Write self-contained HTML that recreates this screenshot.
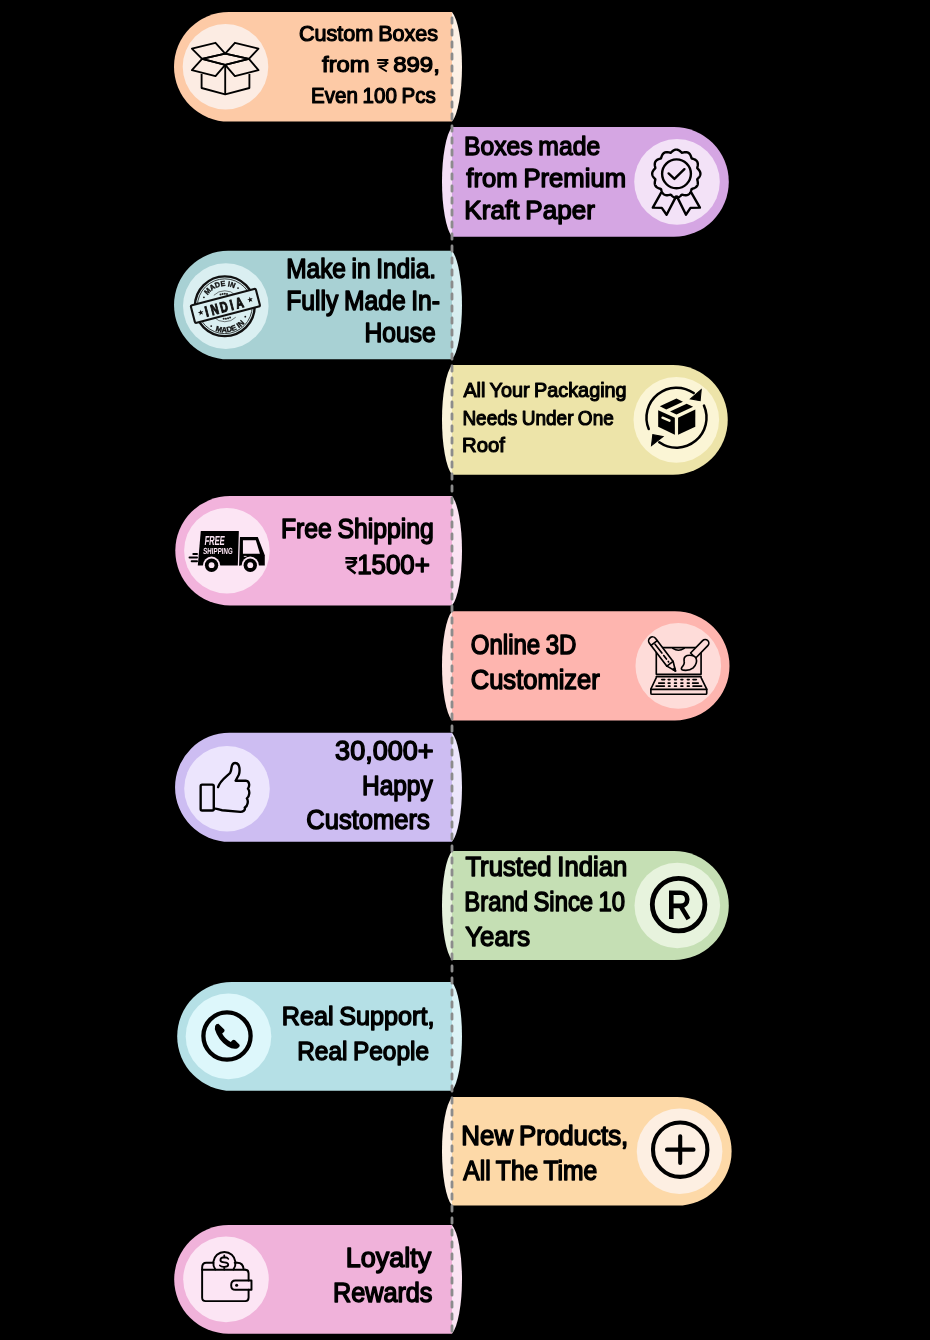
<!DOCTYPE html><html><head><meta charset="utf-8"><style>html,body{margin:0;padding:0;background:#000;width:930px;height:1340px;overflow:hidden}svg{display:block;will-change:transform}</style></head><body>
<svg width="930" height="1340" viewBox="0 0 930 1340">
<path d="M452,12.0 H228.80 A54.80,54.80 0 0 0 228.80,121.6 H452 Z" fill="#fdcaa6"/>
<path d="M452,12.0 A14.00,57.18 0 0 1 452,121.6 Z" fill="#fdf1e6"/>
<circle cx="225.5" cy="66.80" r="42.8" fill="#fcece3"/>
<g fill="none" stroke="#000" stroke-width="1.85" stroke-linejoin="round"><polygon points="191.9,48.699999999999996 215.5,42.8 225.2,53.599999999999994 202.1,58.9"/><polygon points="225.2,53.599999999999994 234.9,42.8 258.5,48.699999999999996 248.9,58.9"/><polygon points="202.1,58.9 225.2,53.599999999999994 248.9,58.9 225.2,64.8"/><polygon points="202.1,58.9 191.9,70.2 215.5,76.1 225.2,64.8"/><polygon points="248.9,58.9 258.5,70.2 234.9,76.1 225.2,64.8"/><polyline points="201.6,74.0 201.6,88.0 225.2,94.39999999999999 249.4,88.0 249.4,74.0"/><line x1="225.2" y1="64.8" x2="225.2" y2="94.39999999999999"/></g>
<path d="M452,127.0 H673.95 A54.85,54.85 0 0 1 673.95,236.7 H452 Z" fill="#d5a6e3"/>
<path d="M452,127.0 A14.00,57.24 0 0 0 452,236.7 Z" fill="#f4def6"/>
<circle cx="677" cy="181.85" r="42.8" fill="#f3e2f7"/>
<g fill="none" stroke="#000" stroke-width="2.4" stroke-linejoin="round" stroke-linecap="round"><polygon points="700.40,173.70 700.38,174.12 700.32,174.54 700.23,174.95 700.10,175.36 699.93,175.77 699.73,176.16 699.51,176.55 699.26,176.93 698.99,177.29 698.70,177.65 698.40,178.00 698.10,178.33 697.80,178.66 697.51,178.99 697.26,179.32 697.31,179.73 697.40,180.15 697.50,180.59 697.59,181.03 697.67,181.48 697.74,181.93 697.79,182.38 697.82,182.84 697.82,183.28 697.80,183.72 697.74,184.16 697.65,184.58 697.52,184.98 697.36,185.38 697.17,185.75 696.94,186.10 696.68,186.44 696.39,186.75 696.08,187.04 695.73,187.30 695.36,187.55 694.97,187.77 694.57,187.97 694.15,188.15 693.72,188.32 693.29,188.47 692.86,188.61 692.44,188.75 692.02,188.89 691.64,189.04 691.49,189.42 691.35,189.84 691.21,190.26 691.07,190.69 690.92,191.12 690.75,191.55 690.57,191.97 690.37,192.37 690.15,192.76 689.90,193.13 689.64,193.48 689.35,193.79 689.04,194.08 688.70,194.34 688.35,194.57 687.98,194.76 687.58,194.92 687.18,195.05 686.76,195.14 686.32,195.20 685.88,195.22 685.44,195.22 684.98,195.19 684.53,195.14 684.08,195.07 683.63,194.99 683.19,194.90 682.75,194.80 682.33,194.71 681.92,194.66 681.59,194.91 681.26,195.20 680.93,195.50 680.60,195.80 680.25,196.10 679.89,196.39 679.53,196.66 679.15,196.91 678.76,197.13 678.37,197.33 677.96,197.50 677.55,197.63 677.14,197.72 676.72,197.78 676.30,197.80 675.88,197.78 675.46,197.72 675.05,197.63 674.64,197.50 674.23,197.33 673.84,197.13 673.45,196.91 673.07,196.66 672.71,196.39 672.35,196.10 672.00,195.80 671.67,195.50 671.34,195.20 671.01,194.91 670.68,194.66 670.27,194.71 669.85,194.80 669.41,194.90 668.97,194.99 668.52,195.07 668.07,195.14 667.62,195.19 667.16,195.22 666.72,195.22 666.28,195.20 665.84,195.14 665.42,195.05 665.02,194.92 664.62,194.76 664.25,194.57 663.90,194.34 663.56,194.08 663.25,193.79 662.96,193.48 662.70,193.13 662.45,192.76 662.23,192.37 662.03,191.97 661.85,191.55 661.68,191.12 661.53,190.69 661.39,190.26 661.25,189.84 661.11,189.42 660.96,189.04 660.58,188.89 660.16,188.75 659.74,188.61 659.31,188.47 658.88,188.32 658.45,188.15 658.03,187.97 657.63,187.77 657.24,187.55 656.87,187.30 656.52,187.04 656.21,186.75 655.92,186.44 655.66,186.10 655.43,185.75 655.24,185.38 655.08,184.98 654.95,184.58 654.86,184.16 654.80,183.72 654.78,183.28 654.78,182.84 654.81,182.38 654.86,181.93 654.93,181.48 655.01,181.03 655.10,180.59 655.20,180.15 655.29,179.73 655.34,179.32 655.09,178.99 654.80,178.66 654.50,178.33 654.20,178.00 653.90,177.65 653.61,177.29 653.34,176.93 653.09,176.55 652.87,176.16 652.67,175.77 652.50,175.36 652.37,174.95 652.28,174.54 652.22,174.12 652.20,173.70 652.22,173.28 652.28,172.86 652.37,172.45 652.50,172.04 652.67,171.63 652.87,171.24 653.09,170.85 653.34,170.47 653.61,170.11 653.90,169.75 654.20,169.40 654.50,169.07 654.80,168.74 655.09,168.41 655.34,168.08 655.29,167.67 655.20,167.25 655.10,166.81 655.01,166.37 654.93,165.92 654.86,165.47 654.81,165.02 654.78,164.56 654.78,164.12 654.80,163.68 654.86,163.24 654.95,162.82 655.08,162.42 655.24,162.02 655.43,161.65 655.66,161.30 655.92,160.96 656.21,160.65 656.52,160.36 656.87,160.10 657.24,159.85 657.63,159.63 658.03,159.43 658.45,159.25 658.88,159.08 659.31,158.93 659.74,158.79 660.16,158.65 660.58,158.51 660.96,158.36 661.11,157.98 661.25,157.56 661.39,157.14 661.53,156.71 661.68,156.28 661.85,155.85 662.03,155.43 662.23,155.03 662.45,154.64 662.70,154.27 662.96,153.92 663.25,153.61 663.56,153.32 663.90,153.06 664.25,152.83 664.62,152.64 665.02,152.48 665.42,152.35 665.84,152.26 666.28,152.20 666.72,152.18 667.16,152.18 667.62,152.21 668.07,152.26 668.52,152.33 668.97,152.41 669.41,152.50 669.85,152.60 670.27,152.69 670.68,152.74 671.01,152.49 671.34,152.20 671.67,151.90 672.00,151.60 672.35,151.30 672.71,151.01 673.07,150.74 673.45,150.49 673.84,150.27 674.23,150.07 674.64,149.90 675.05,149.77 675.46,149.68 675.88,149.62 676.30,149.60 676.72,149.62 677.14,149.68 677.55,149.77 677.96,149.90 678.37,150.07 678.76,150.27 679.15,150.49 679.53,150.74 679.89,151.01 680.25,151.30 680.60,151.60 680.93,151.90 681.26,152.20 681.59,152.49 681.92,152.74 682.33,152.69 682.75,152.60 683.19,152.50 683.63,152.41 684.08,152.33 684.53,152.26 684.98,152.21 685.44,152.18 685.88,152.18 686.32,152.20 686.76,152.26 687.18,152.35 687.58,152.48 687.98,152.64 688.35,152.83 688.70,153.06 689.04,153.32 689.35,153.61 689.64,153.92 689.90,154.27 690.15,154.64 690.37,155.03 690.57,155.43 690.75,155.85 690.92,156.28 691.07,156.71 691.21,157.14 691.35,157.56 691.49,157.98 691.64,158.36 692.02,158.51 692.44,158.65 692.86,158.79 693.29,158.93 693.72,159.08 694.15,159.25 694.57,159.43 694.97,159.63 695.36,159.85 695.73,160.10 696.08,160.36 696.39,160.65 696.68,160.96 696.94,161.30 697.17,161.65 697.36,162.02 697.52,162.42 697.65,162.82 697.74,163.24 697.80,163.68 697.82,164.12 697.82,164.56 697.79,165.02 697.74,165.47 697.67,165.92 697.59,166.37 697.50,166.81 697.40,167.25 697.31,167.67 697.26,168.08 697.51,168.41 697.80,168.74 698.10,169.07 698.40,169.40 698.70,169.75 698.99,170.11 699.26,170.47 699.51,170.85 699.73,171.24 699.93,171.63 700.10,172.04 700.23,172.45 700.32,172.86 700.38,173.28"/><circle cx="676.5" cy="173.8" r="14.4"/><polyline points="668.6,173.4 674.4,178.9 684.4,169.2"/><polyline points="661.2,192.7 652.8,207.6 661.8,207.9 666.6,214.7 676,196.6"/><polyline points="691.2,192.4 699.9,207.6 690.5,207.9 686,214.7 677,196.6"/></g>
<path d="M452,250.8 H228.25 A54.25,54.25 0 0 0 228.25,359.3 H452 Z" fill="#a8d1d4"/>
<path d="M452,250.8 A14.00,56.61 0 0 1 452,359.3 Z" fill="#d8eef0"/>
<circle cx="225.8" cy="306.10" r="42.8" fill="#daeff1"/>
<circle cx="224.8" cy="306.25000000000006" r="29.9" fill="none" stroke="#111" stroke-width="2.4"/><circle cx="224.8" cy="306.25000000000006" r="27.4" fill="none" stroke="#111" stroke-width="0.8"/><path id="arcT" d="M205.82,299.34 A20.2,20.2 0 0 1 237.78,290.78" fill="none"/><path id="arcB" d="M208.09,326.17 A26,26 0 0 0 248.91,315.99" fill="none"/><text font-family="Liberation Sans" font-weight="bold" font-size="7.4" fill="#111" stroke="#111" stroke-width="0.35"><textPath href="#arcT" startOffset="50%" text-anchor="middle" textLength="30" lengthAdjust="spacingAndGlyphs">MADE IN</textPath></text><text font-family="Liberation Sans" font-weight="bold" font-size="7.4" fill="#111" stroke="#111" stroke-width="0.35"><textPath href="#arcB" startOffset="50%" text-anchor="middle" textLength="32" lengthAdjust="spacingAndGlyphs">MADE IN</textPath></text><circle cx="203.92" cy="297.34" r="0.9" fill="#111"/><circle cx="238.03" cy="288.05" r="0.9" fill="#111"/><circle cx="211.21" cy="326.03" r="0.9" fill="#111"/><circle cx="245.29" cy="316.69" r="0.9" fill="#111"/><circle cx="220.52" cy="294.50" r="1.0" fill="#222"/><circle cx="222.63" cy="293.94" r="1.0" fill="#222"/><circle cx="224.80" cy="293.75" r="1.0" fill="#222"/><circle cx="226.97" cy="293.94" r="1.0" fill="#222"/><circle cx="230.08" cy="317.58" r="1.0" fill="#222"/><circle cx="228.04" cy="318.32" r="1.0" fill="#222"/><circle cx="225.89" cy="318.70" r="1.0" fill="#222"/><circle cx="223.71" cy="318.70" r="1.0" fill="#222"/><path d="M213.84,295.29 A15.5,15.5 0 0 1 235.76,295.29" fill="none" stroke="#222" stroke-width="0.6"/><path d="M235.76,317.21 A15.5,15.5 0 0 1 213.84,317.21" fill="none" stroke="#222" stroke-width="0.6"/><g transform="translate(225.4,305.85) rotate(-14.66)"><rect x="-33.6" y="-9.1" width="67.2" height="18.2" rx="1.5" fill="#daeff1" stroke="#111" stroke-width="2.1"/><text x="-19.6" y="5.7" text-anchor="middle" transform="translate(-19.6,0) scale(0.72,1) translate(19.6,0)" font-family="Liberation Sans" font-weight="bold" font-size="14.6" fill="#111" stroke="#111" stroke-width="1.1">I</text><text x="-11.2" y="5.7" text-anchor="middle" transform="translate(-11.2,0) scale(0.72,1) translate(11.2,0)" font-family="Liberation Sans" font-weight="bold" font-size="14.6" fill="#111" stroke="#111" stroke-width="1.1">N</text><text x="-1.8" y="5.7" text-anchor="middle" transform="translate(-1.8,0) scale(0.72,1) translate(1.8,0)" font-family="Liberation Sans" font-weight="bold" font-size="14.6" fill="#111" stroke="#111" stroke-width="1.1">D</text><text x="6.3" y="5.7" text-anchor="middle" transform="translate(6.3,0) scale(0.72,1) translate(-6.3,0)" font-family="Liberation Sans" font-weight="bold" font-size="14.6" fill="#111" stroke="#111" stroke-width="1.1">I</text><text x="14.2" y="5.7" text-anchor="middle" transform="translate(14.2,0) scale(0.72,1) translate(-14.2,0)" font-family="Liberation Sans" font-weight="bold" font-size="14.6" fill="#111" stroke="#111" stroke-width="1.1">A</text><polygon points="-25.50,-2.70 -24.77,-0.71 -22.65,-0.63 -24.31,0.69 -23.74,2.73 -25.50,1.55 -27.26,2.73 -26.69,0.69 -28.35,-0.63 -26.23,-0.71" fill="#111"/><polygon points="25.50,-2.70 26.23,-0.71 28.35,-0.63 26.69,0.69 27.26,2.73 25.50,1.55 23.74,2.73 24.31,0.69 22.65,-0.63 24.77,-0.71" fill="#111"/></g>
<path d="M452,365.0 H672.95 A54.85,54.85 0 0 1 672.95,474.7 H452 Z" fill="#ede4a9"/>
<path d="M452,365.0 A14.00,57.24 0 0 0 452,474.7 Z" fill="#f9f3d9"/>
<circle cx="676.3" cy="419.85" r="42.8" fill="#fbf5d5"/>
<path d="M648.74,429.03 A30,30 0 0 1 693.71,393.08" fill="none" stroke="#000" stroke-width="2.5" stroke-linecap="round"/><path d="M703.95,405.54 A30,30 0 0 1 659.29,442.22" fill="none" stroke="#000" stroke-width="2.5" stroke-linecap="round"/><g transform="translate(627,370.35) scale(0.10753)"><polygon points="690,180 590,265 680,282" fill="#000" stroke="#000" stroke-width="10"/><polygon points="228,700 240,598 335,615" fill="#000" stroke="#000" stroke-width="10"/><polygon points="290,370 445,440 445,600 290,525" fill="#000"/><polygon points="475,440 635,365 635,525 475,600" fill="#000"/><polygon points="305,335 460,262 520,292 365,365" fill="#000"/><polygon points="400,382 555,310 615,338 460,410" fill="#000"/><line x1="330" y1="440" x2="395" y2="468" stroke="#fbf5d5" stroke-width="22" stroke-linecap="round"/></g>
<path d="M452,496.0 H230.05 A54.75,54.75 0 0 0 230.05,605.5 H452 Z" fill="#f2b3dc"/>
<path d="M452,496.0 A14.00,57.13 0 0 1 452,605.5 Z" fill="#fbe4f3"/>
<circle cx="226.9" cy="550.75" r="42.8" fill="#fce5f4"/>
<g transform="translate(175,499.4) scale(0.10753)"><path d="M240,295 H590 Q602,295 602,307 V615 H212 Z" fill="#000"/><path d="M615,350 H770 L835,520 V615 H590 V360 Q590,350 600,350 Z" fill="#000"/><path d="M632,380 H752 L790,505 H632 Z" fill="#fce5f4"/><circle cx="340" cy="612" r="80" fill="#fce5f4"/><circle cx="700" cy="612" r="80" fill="#fce5f4"/><circle cx="340" cy="612" r="62" fill="#000"/><circle cx="700" cy="612" r="62" fill="#000"/><circle cx="340" cy="612" r="27" fill="#fce5f4"/><circle cx="700" cy="612" r="27" fill="#fce5f4"/><g stroke="#000" stroke-width="18" stroke-linecap="round"><line x1="135" y1="540" x2="205" y2="540"/><line x1="170" y1="508" x2="205" y2="508"/><line x1="155" y1="575" x2="205" y2="575"/></g><line x1="600" y1="290" x2="590" y2="620" stroke="#fce5f4" stroke-width="12"/><line x1="640" y1="530" x2="665" y2="530" stroke="#fce5f4" stroke-width="8"/><text x="271" y="422" font-family="Liberation Sans" font-weight="bold" font-size="122" fill="#fce5f4" textLength="188" lengthAdjust="spacingAndGlyphs" transform="skewX(-6) translate(45,0)">FREE</text><text x="262" y="509" font-family="Liberation Sans" font-weight="bold" font-size="82" fill="#fce5f4" textLength="275" lengthAdjust="spacingAndGlyphs" transform="skewX(-4) translate(34,0)">SHIPPING</text></g>
<path d="M452,611.3 H674.90 A54.60,54.60 0 0 1 674.90,720.5 H452 Z" fill="#feb5af"/>
<path d="M452,611.3 A14.00,56.98 0 0 0 452,720.5 Z" fill="#fde3e0"/>
<circle cx="678.3" cy="665.90" r="42.8" fill="#fedcd9"/>
<g transform="translate(645,629.55) scale(0.07527)" fill="none" stroke="#000" stroke-width="22" stroke-linejoin="round" stroke-linecap="round"><path d="M150,595 V255 Q150,240 165,240 H730 Q745,240 745,255 V595 Z"/><line x1="150" y1="625" x2="745" y2="625"/><path d="M150,640 L78,790 V845 Q78,860 95,860 H805 Q820,860 820,845 V790 L745,640"/><line x1="78" y1="795" x2="820" y2="795"/><path d="M370,250 Q445,300 520,250" fill="none"/><line x1="223" y1="665" x2="262" y2="665" stroke-width="22"/><line x1="308" y1="665" x2="332" y2="665" stroke-width="22"/><line x1="393" y1="665" x2="417" y2="665" stroke-width="22"/><line x1="478" y1="665" x2="502" y2="665" stroke-width="22"/><line x1="563" y1="665" x2="587" y2="665" stroke-width="22"/><line x1="638" y1="665" x2="682" y2="665" stroke-width="22"/><line x1="183" y1="712" x2="257" y2="712" stroke-width="22"/><line x1="308" y1="712" x2="332" y2="712" stroke-width="22"/><line x1="393" y1="712" x2="417" y2="712" stroke-width="22"/><line x1="478" y1="712" x2="502" y2="712" stroke-width="22"/><line x1="563" y1="712" x2="587" y2="712" stroke-width="22"/><line x1="633" y1="712" x2="707" y2="712" stroke-width="22"/><line x1="148" y1="752" x2="257" y2="752" stroke-width="22"/><line x1="313" y1="752" x2="332" y2="752" stroke-width="22"/><line x1="393" y1="752" x2="417" y2="752" stroke-width="22"/><line x1="478" y1="752" x2="502" y2="752" stroke-width="22"/><line x1="563" y1="752" x2="587" y2="752" stroke-width="22"/><line x1="638" y1="752" x2="752" y2="752" stroke-width="22"/><g transform="translate(100,150) rotate(52.67)"><path d="M0,-52 H383 L503,0 L383,52 H0 A52,52 0 0 1 0,-52 Z" fill="#fedcd9"/><line x1="35" y1="-52" x2="35" y2="52"/><line x1="55" y1="0" x2="353" y2="0" stroke-dasharray="150 40 60 40"/><line x1="383" y1="-52" x2="383" y2="52"/><path d="M468,-14 L503,0 L468,14 Z" fill="#000"/></g><g transform="translate(800,180) rotate(134.12)"><path d="M0,-48 H230 V48 H0 A48,48 0 0 1 0,-48 Z" fill="#fedcd9"/></g><path d="M560,345 Q650,330 680,385 Q700,450 640,510 Q590,550 510,540 Q470,530 490,500 Q530,455 520,420 Q510,360 560,345 Z" fill="#fedcd9"/></g>
<path d="M452,732.7 H229.55 A54.55,54.55 0 0 0 229.55,841.8 H452 Z" fill="#cdbdf2"/>
<path d="M452,732.7 A14.00,56.92 0 0 1 452,841.8 Z" fill="#ece6fb"/>
<circle cx="227" cy="788.70" r="42.8" fill="#ece5fd"/>
<g transform="translate(177,737.15) scale(0.10753)" fill="none" stroke="#000" stroke-width="22" stroke-linejoin="round" stroke-linecap="round"><rect x="220" y="442" width="122" height="240" rx="14"/><path d="M382,465 C400,400 470,360 495,330 C515,300 495,240 540,240 C590,240 585,320 575,350 L545,405 L640,405 C680,410 675,460 660,480 C680,500 675,550 650,570 C665,590 660,640 630,655 C640,680 610,695 590,695 L420,680 C390,675 370,660 345,665"/></g>
<path d="M452,851.1 H674.35 A54.45,54.45 0 0 1 674.35,960.0 H452 Z" fill="#c5dfb4"/>
<path d="M452,851.1 A14.00,56.82 0 0 0 452,960.0 Z" fill="#e5f1dc"/>
<circle cx="677.3" cy="905.55" r="42.8" fill="#e7f3dd"/>
<circle cx="678.6" cy="904.5999999999999" r="26.3" fill="none" stroke="#000" stroke-width="4.8"/><path d="M671.3,919.0999999999999 V892.6999999999999 H680.5 C689.5,892.6999999999999 689.5,905.8999999999999 680.5,905.8999999999999 H671.3 M680.5,905.8999999999999 L688.5,919.0999999999999" fill="none" stroke="#000" stroke-width="4.6"/>
<path d="M452,981.9 H231.65 A54.45,54.45 0 0 0 231.65,1090.8 H452 Z" fill="#b5e0e6"/>
<path d="M452,981.9 A14.00,56.82 0 0 1 452,1090.8 Z" fill="#dcf3f6"/>
<circle cx="228.5" cy="1036.35" r="42.8" fill="#ddf7fb"/>
<circle cx="227" cy="1036.05" r="23.6" fill="none" stroke="#000" stroke-width="4.3"/><g transform="translate(177,986.05) scale(0.10753)"><path d="M385,350 L440,405 Q447,415 437,428 L420,442 Q445,492 500,520 L515,505 Q527,494 540,503 L580,543 Q588,556 578,567 L560,580 Q520,592 468,560 Q382,502 352,402 Q346,372 365,356 Z" fill="#000"/></g>
<path d="M452,1096.9 H677.25 A54.35,54.35 0 0 1 677.25,1205.6 H452 Z" fill="#fdd9a8"/>
<path d="M452,1096.9 A14.00,56.71 0 0 0 452,1205.6 Z" fill="#fdf0e3"/>
<circle cx="679.6" cy="1151.25" r="42.8" fill="#fdefe2"/>
<circle cx="680.2" cy="1149.65" r="27.2" fill="none" stroke="#000" stroke-width="4.1"/><path d="M667,1149.65 H693.5 M680.2,1136.3500000000001 V1162.95" stroke="#000" stroke-width="4.1" stroke-linecap="round"/>
<path d="M452,1225.0 H228.55 A54.35,54.35 0 0 0 228.55,1333.7 H452 Z" fill="#f0b2da"/>
<path d="M452,1225.0 A14.00,56.71 0 0 1 452,1333.7 Z" fill="#fbe4f3"/>
<circle cx="226" cy="1279.35" r="42.8" fill="#fce5f4"/>
<g transform="translate(196,1245.0) scale(0.06452)" fill="none" stroke="#000" stroke-width="30" stroke-linejoin="round" stroke-linecap="round"><path d="M765,385 Q815,385 815,440 V550 M815,695 V815 Q815,870 765,870 H150 Q95,870 95,815 V350 Q95,275 160,275 H270"/><line x1="95" y1="385" x2="765" y2="385"/><path d="M600,275 H640 Q730,275 738,375"/><path d="M300,380 A172,172 0 1 1 580,380"/><path d="M860,550 H610 Q545,550 545,622 Q545,695 610,695 H860 Z"/><circle cx="630" cy="625" r="24" fill="#000" stroke="none"/><path d="M500,215 Q485,190 440,190 Q378,192 378,235 Q380,268 440,270 Q500,275 500,305 Q500,335 440,338 Q390,340 370,318 M438,160 V190 M438,338 V380" stroke-width="28"/></g>
<line x1="452" y1="17.95" x2="452" y2="1332" stroke="#8c8c8c" stroke-width="2.8" stroke-dasharray="5.2 6.8" stroke-linecap="round"/>
<path d="M377.20,60.03 H388.40 M377.20,63.09 H388.40 M380.34,60.03 Q386.83,60.03 386.61,63.09 Q386.16,66.55 378.54,66.55 M378.77,66.55 L386.83,71.47" fill="none" stroke="#000" stroke-width="1.86" stroke-linejoin="miter" stroke-linecap="butt"/>
<text x="298.99" y="41.09" font-family="Liberation Sans" font-weight="normal" stroke="#000" stroke-width="1.21" stroke-linejoin="round" font-size="22.07" word-spacing="-1.10" textLength="139.11" lengthAdjust="spacingAndGlyphs" fill="#000">Custom Boxes</text>
<text x="322.08" y="71.79" font-family="Liberation Sans" font-weight="normal" stroke="#000" stroke-width="1.21" stroke-linejoin="round" font-size="22.07" word-spacing="-1.10" textLength="47.54" lengthAdjust="spacingAndGlyphs" fill="#000">from</text>
<text x="393.17" y="71.79" font-family="Liberation Sans" font-weight="normal" stroke="#000" stroke-width="1.21" stroke-linejoin="round" font-size="22.07" word-spacing="-1.10" textLength="46.69" lengthAdjust="spacingAndGlyphs" fill="#000">899,</text>
<text x="310.99" y="102.99" font-family="Liberation Sans" font-weight="normal" stroke="#000" stroke-width="1.21" stroke-linejoin="round" font-size="22.07" word-spacing="-1.10" textLength="124.82" lengthAdjust="spacingAndGlyphs" fill="#000">Even 100 Pcs</text>
<text x="463.97" y="155.39" font-family="Liberation Sans" font-weight="normal" stroke="#000" stroke-width="1.43" stroke-linejoin="round" font-size="25.98" word-spacing="-1.30" textLength="136.27" lengthAdjust="spacingAndGlyphs" fill="#000">Boxes made</text>
<text x="466.37" y="187.29" font-family="Liberation Sans" font-weight="normal" stroke="#000" stroke-width="1.43" stroke-linejoin="round" font-size="25.98" word-spacing="-1.30" textLength="159.64" lengthAdjust="spacingAndGlyphs" fill="#000">from Premium</text>
<text x="464.36" y="219.29" font-family="Liberation Sans" font-weight="normal" stroke="#000" stroke-width="1.43" stroke-linejoin="round" font-size="25.98" word-spacing="-1.30" textLength="130.47" lengthAdjust="spacingAndGlyphs" fill="#000">Kraft Paper</text>
<text x="286.15" y="277.94" font-family="Liberation Sans" font-weight="normal" stroke="#000" stroke-width="1.52" stroke-linejoin="round" font-size="27.59" word-spacing="-1.38" textLength="149.90" lengthAdjust="spacingAndGlyphs" fill="#000">Make in India.</text>
<text x="286.16" y="309.54" font-family="Liberation Sans" font-weight="normal" stroke="#000" stroke-width="1.52" stroke-linejoin="round" font-size="27.59" word-spacing="-1.38" textLength="153.87" lengthAdjust="spacingAndGlyphs" fill="#000">Fully Made In-</text>
<text x="364.52" y="342.44" font-family="Liberation Sans" font-weight="normal" stroke="#000" stroke-width="1.52" stroke-linejoin="round" font-size="27.59" word-spacing="-1.38" textLength="71.15" lengthAdjust="spacingAndGlyphs" fill="#000">House</text>
<text x="463.38" y="397.24" font-family="Liberation Sans" font-weight="normal" stroke="#000" stroke-width="1.12" stroke-linejoin="round" font-size="20.32" word-spacing="-1.02" textLength="163.23" lengthAdjust="spacingAndGlyphs" fill="#000">All Your Packaging</text>
<text x="462.38" y="424.74" font-family="Liberation Sans" font-weight="normal" stroke="#000" stroke-width="1.12" stroke-linejoin="round" font-size="20.32" word-spacing="-1.02" textLength="151.46" lengthAdjust="spacingAndGlyphs" fill="#000">Needs Under One</text>
<text x="462.00" y="451.84" font-family="Liberation Sans" font-weight="normal" stroke="#000" stroke-width="1.12" stroke-linejoin="round" font-size="20.32" word-spacing="-1.02" textLength="42.88" lengthAdjust="spacingAndGlyphs" fill="#000">Roof</text>
<path d="M345.40,558.24 H357.20 M345.40,562.31 H357.20 M348.70,558.24 Q355.55,558.24 355.31,562.31 Q354.84,566.91 346.82,566.91 M347.05,566.91 L355.55,573.46" fill="none" stroke="#000" stroke-width="2.48" stroke-linejoin="miter" stroke-linecap="butt"/>
<text x="280.88" y="538.06" font-family="Liberation Sans" font-weight="normal" stroke="#000" stroke-width="1.49" stroke-linejoin="round" font-size="27.05" word-spacing="-1.35" textLength="152.85" lengthAdjust="spacingAndGlyphs" fill="#000">Free Shipping</text>
<text x="357.16" y="573.66" font-family="Liberation Sans" font-weight="normal" stroke="#000" stroke-width="1.49" stroke-linejoin="round" font-size="27.05" word-spacing="-1.35" textLength="72.65" lengthAdjust="spacingAndGlyphs" fill="#000">1500+</text>
<text x="470.75" y="653.86" font-family="Liberation Sans" font-weight="normal" stroke="#000" stroke-width="1.49" stroke-linejoin="round" font-size="27.05" word-spacing="-1.35" textLength="105.70" lengthAdjust="spacingAndGlyphs" fill="#000">Online 3D</text>
<text x="470.74" y="688.76" font-family="Liberation Sans" font-weight="normal" stroke="#000" stroke-width="1.49" stroke-linejoin="round" font-size="27.05" word-spacing="-1.35" textLength="129.09" lengthAdjust="spacingAndGlyphs" fill="#000">Customizer</text>
<text x="335.14" y="759.76" font-family="Liberation Sans" font-weight="normal" stroke="#000" stroke-width="1.47" stroke-linejoin="round" font-size="26.78" word-spacing="-1.34" textLength="98.52" lengthAdjust="spacingAndGlyphs" fill="#000">30,000+</text>
<text x="361.97" y="794.76" font-family="Liberation Sans" font-weight="normal" stroke="#000" stroke-width="1.47" stroke-linejoin="round" font-size="26.78" word-spacing="-1.34" textLength="70.71" lengthAdjust="spacingAndGlyphs" fill="#000">Happy</text>
<text x="306.36" y="829.46" font-family="Liberation Sans" font-weight="normal" stroke="#000" stroke-width="1.47" stroke-linejoin="round" font-size="26.78" word-spacing="-1.34" textLength="123.48" lengthAdjust="spacingAndGlyphs" fill="#000">Customers</text>
<text x="465.38" y="875.96" font-family="Liberation Sans" font-weight="normal" stroke="#000" stroke-width="1.47" stroke-linejoin="round" font-size="26.78" word-spacing="-1.34" textLength="161.85" lengthAdjust="spacingAndGlyphs" fill="#000">Trusted Indian</text>
<text x="464.36" y="911.26" font-family="Liberation Sans" font-weight="normal" stroke="#000" stroke-width="1.47" stroke-linejoin="round" font-size="26.78" word-spacing="-1.34" textLength="160.68" lengthAdjust="spacingAndGlyphs" fill="#000">Brand Since 10</text>
<text x="465.33" y="946.46" font-family="Liberation Sans" font-weight="normal" stroke="#000" stroke-width="1.47" stroke-linejoin="round" font-size="26.78" word-spacing="-1.34" textLength="64.76" lengthAdjust="spacingAndGlyphs" fill="#000">Years</text>
<text x="281.75" y="1024.78" font-family="Liberation Sans" font-weight="normal" stroke="#000" stroke-width="1.44" stroke-linejoin="round" font-size="26.24" word-spacing="-1.31" textLength="152.71" lengthAdjust="spacingAndGlyphs" fill="#000">Real Support,</text>
<text x="297.16" y="1059.58" font-family="Liberation Sans" font-weight="normal" stroke="#000" stroke-width="1.44" stroke-linejoin="round" font-size="26.24" word-spacing="-1.31" textLength="131.89" lengthAdjust="spacingAndGlyphs" fill="#000">Real People</text>
<text x="461.35" y="1144.86" font-family="Liberation Sans" font-weight="normal" stroke="#000" stroke-width="1.48" stroke-linejoin="round" font-size="26.92" word-spacing="-1.35" textLength="166.91" lengthAdjust="spacingAndGlyphs" fill="#000">New Products,</text>
<text x="463.37" y="1179.66" font-family="Liberation Sans" font-weight="normal" stroke="#000" stroke-width="1.48" stroke-linejoin="round" font-size="26.92" word-spacing="-1.35" textLength="133.84" lengthAdjust="spacingAndGlyphs" fill="#000">All The Time</text>
<text x="345.75" y="1266.94" font-family="Liberation Sans" font-weight="normal" stroke="#000" stroke-width="1.52" stroke-linejoin="round" font-size="27.73" word-spacing="-1.39" textLength="85.49" lengthAdjust="spacingAndGlyphs" fill="#000">Loyalty</text>
<text x="332.95" y="1302.24" font-family="Liberation Sans" font-weight="normal" stroke="#000" stroke-width="1.52" stroke-linejoin="round" font-size="27.73" word-spacing="-1.39" textLength="99.50" lengthAdjust="spacingAndGlyphs" fill="#000">Rewards</text>
</svg></body></html>
